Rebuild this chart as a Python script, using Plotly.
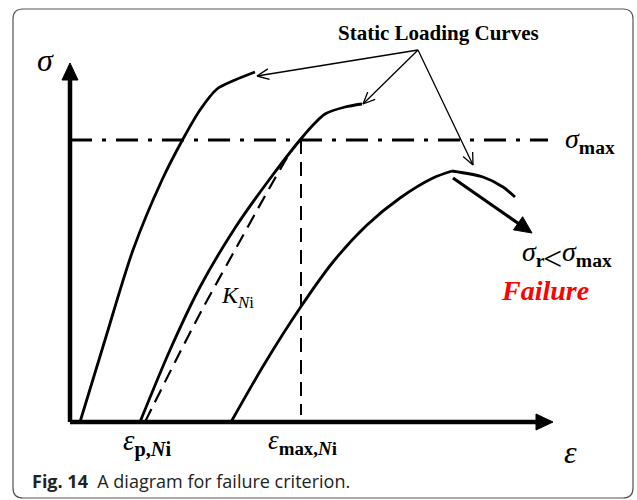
import numpy as np
import plotly.graph_objects as go

# Coordenadas del esquema (deformación eps, tensión sig), origen en el cruce de ejes
curve1_eps = [10, 35, 63, 92, 113, 130, 147, 165, 185]
curve1_sig = [0, 82, 172, 242, 283, 312, 333, 342, 350]

curve2_eps = [70, 100, 130, 165, 199, 230, 245, 255, 275, 292]
curve2_sig = [0, 72, 135, 194, 242, 282, 299, 308, 315, 318]

k_eps = [75, 105, 133, 165, 195, 220, 230]
k_sig = [0, 60, 114, 172, 226, 269, 282]

# curva 3: tramo ascendente y tramo descendente tras el pico
curve3_up_eps = [161, 195, 230, 263, 297, 330, 363, 382]
curve3_up_sig = [0, 59, 114, 160, 197, 224, 244, 251]
curve3_down_eps = [382, 413, 433, 445]
curve3_down_sig = [251, 245, 235, 225]

sigma_max = 282
sigma_max_end = 478
eps_max_ni = 231

x_axis_end = 483
y_axis_end = 359

# flechas "Static Loading Curves": origen y puntas
label_origin = (348, 372)
label_tips_eps = [187, 293, 403]
label_tips_sig = [346, 318, 257]

# flecha de fallo
fail_from = (383, 244)
fail_to = (462, 189)

BLACK = '#000000'
SERIF = 'Liberation Serif'


def filled_head(tail, tip, length, half):
    d = np.array(tip, float) - np.array(tail, float)
    d /= np.linalg.norm(d)
    n = np.array([-d[1], d[0]])
    base = np.array(tip) - d * length
    p1 = base + n * half
    p2 = base - n * half
    return [p1[0], tip[0], p2[0], p1[0]], [p1[1], tip[1], p2[1], p1[1]]


def open_head(tail, tip, length, ang=24):
    d = np.array(tail, float) - np.array(tip, float)
    d /= np.linalg.norm(d)
    xs, ys = [], []
    for a in (np.radians(ang), -np.radians(ang)):
        r = np.array([d[0] * np.cos(a) - d[1] * np.sin(a), d[0] * np.sin(a) + d[1] * np.cos(a)])
        p = np.array(tip) + r * length
        xs += [p[0], tip[0], None]
        ys += [p[1], tip[1], None]
    return xs, ys


fig = go.Figure()


def line(x, y, width, dash='solid', shape='spline'):
    fig.add_trace(go.Scatter(
        x=x, y=y, mode='lines', line=dict(color=BLACK, width=width, dash=dash, shape=shape,
                                          smoothing=0.8),
        hoverinfo='skip', showlegend=False
    ))


def filled(x, y):
    fig.add_trace(go.Scatter(
        x=x, y=y, mode='lines', fill='toself', fillcolor=BLACK,
        line=dict(color=BLACK, width=1), hoverinfo='skip', showlegend=False
    ))


# Ejes con flechas
line([0, 0], [0, y_axis_end - 14], 4.5, shape='linear')
filled(*filled_head((0, 0), (0, y_axis_end), 17, 8))
line([0, x_axis_end - 14], [0, 0], 4.5, shape='linear')
filled(*filled_head((0, 0), (x_axis_end, 0), 17, 8))

# Línea sigma_max (punto y raya)
line([0, sigma_max_end], [sigma_max, sigma_max], 3, dash='22px,10px,4px,10px', shape='linear')

# Línea vertical eps_max
line([eps_max_ni, eps_max_ni], [sigma_max, 7], 2, dash='14px,8px', shape='linear')

# Curvas de carga estática
line(curve1_eps, curve1_sig, 2.8)
line(curve2_eps, curve2_sig, 2.8)
line(k_eps, k_sig, 2.2, dash='14px,8px')
line(curve3_up_eps, curve3_up_sig, 2.8)
line(curve3_down_eps, curve3_down_sig, 2.8)

# Flecha de fallo
line([fail_from[0], fail_to[0] - 10], [fail_from[1], fail_to[1] + 7], 3.2, shape='linear')
filled(*filled_head(fail_from, fail_to, 17, 8))

# Flechas finas desde la etiqueta
for tx, ty in zip(label_tips_eps, label_tips_sig):
    line([label_origin[0], tx], [label_origin[1], ty], 1.3, shape='linear')
    hx, hy = open_head(label_origin, (tx, ty), 13)
    line(hx, hy, 1.3, shape='linear')


def label(x, y, text, size, color=BLACK, family=SERIF, xanchor='center'):
    fig.add_annotation(x=x, y=y, xref='x', yref='y', text=text, showarrow=False,
                       xanchor=xanchor, yanchor='middle',
                       font=dict(family=family, size=size, color=color))


label(368, 389, '<b>Static Loading Curves</b>', 21)
label(-25, 362, '<i>σ</i>', 32)
label(493, 282, '<i>σ</i><sub><b>max</b></sub>', 28, xanchor='left')
label(450, 169, '<i>σ</i><sub><b>r</b></sub>', 28, xanchor='left')
label(482, 164, '&lt;', 34)
label(490, 169, '<i>σ</i><sub><b>max</b></sub>', 28, xanchor='left')
label(475, 132, '<b><i>Failure</i></b>', 28, color='#ff0000')
label(167, 125, '<i>K</i><sub><i>N</i>i</sub>', 24)
label(77, -20, '<i>ε</i><sub><b>p,<i>N</i>i</b></sub>', 29)
label(232, -20, '<i>ε</i><sub><b>max,<i>N</i>i</b></sub>', 27)
label(500, -30, '<i>ε</i>', 32)

# Marco redondeado
r = 10
x0, x1, y0, y1 = 13 / 637, 633 / 637, 1 - 9 / 500, 1 - 498 / 500
rx, ry = r / 637, r / 500
frame = (f'M {x0 + rx},{y0} L {x1 - rx},{y0} Q {x1},{y0} {x1},{y0 - ry} '
         f'L {x1},{y1 + ry} Q {x1},{y1} {x1 - rx},{y1} L {x0 + rx},{y1} '
         f'Q {x0},{y1} {x0},{y1 + ry} L {x0},{y0 - ry} Q {x0},{y0} {x0 + rx},{y0} Z')
fig.add_shape(type='path', path=frame, xref='paper', yref='paper',
              line=dict(color='#555555', width=1.2))

# Pie de figura
fig.add_annotation(
    x=30 / 637, y=1 - 481 / 500, xref='paper', yref='paper', xanchor='left', yanchor='middle',
    showarrow=False,
    text='<b>Fig. 14</b>  A diagram for failure criterion.',
    font=dict(family='Open Sans', size=18, color='#222222')
)

fig.update_layout(
    width=637, height=500,
    margin=dict(l=0, r=0, t=0, b=0),
    paper_bgcolor='white', plot_bgcolor='white',
    xaxis=dict(range=[-70, 567], visible=False, fixedrange=True),
    yaxis=dict(range=[-78, 422], visible=False, fixedrange=True),
)

fig.write_html("out.html", config={'displayModeBar': False},
               post_script="document.body.style.margin = '0';")
